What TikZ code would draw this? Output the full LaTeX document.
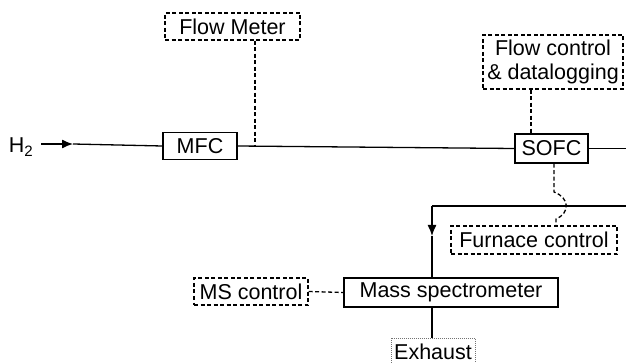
\documentclass[tikz,border=0pt]{standalone}
\usepackage{fontspec}
\setmainfont{Liberation Sans}
\usetikzlibrary{arrows.meta}
\begin{document}
\begin{tikzpicture}[x=1pt,y=-1pt,
  box/.style={draw=black, line width=1.4pt, inner sep=0pt, font=\fontsize{21.5}{25}\selectfont, text=black},
  dbox/.style={box, dash pattern=on 4pt off 2.5pt},
  conn/.style={draw=black, line width=1.3pt},
  dconn/.style={draw=black, line width=1.3pt, dash pattern=on 4pt off 2.5pt},
  tip/.style={-{Latex[length=11pt,width=9pt]}}]
\useasboundingbox (0,0) rectangle (626,363);
\clip (0,0) rectangle (626,363);
% nodes
\node[font=\fontsize{21.5}{25}\selectfont, inner sep=0pt, text=black] (h2) at (21,147) {H\textsubscript{2}};
\node[box, minimum width=74pt, minimum height=27pt] (mfc) at (200,146) {MFC};
\node[dbox, minimum width=135pt, minimum height=27pt] (fm) at (232.5,26.5) {Flow Meter};
\node[box, minimum width=73pt, minimum height=29pt] (sofc) at (551.5,148.5) {SOFC};
\node[dbox, minimum width=140pt, minimum height=54pt, align=center] (fc) at (553,62) {Flow control\\[-1pt]\& datalogging};
\node[dbox, minimum width=166pt, minimum height=28pt] (furn) at (534,240) {Furnace control};
\node[box, minimum width=214pt, minimum height=29pt] (ms) at (451,292.5) {Mass spectrometer};
\node[dbox, minimum width=114pt, minimum height=27pt] (msc) at (251,291.5) {MS control};
\node[box, draw=black!55, dash pattern=on 1pt off 1pt, line width=1pt, minimum width=84pt, minimum height=28pt] (exh) at (433,352) {Exhaust};
% coordinates
\coordinate (a0) at (41,144);
\coordinate (a1) at (73,144);
\coordinate (fmj) at (255,146.3);
\coordinate (rout) at (626,148.5);
\coordinate (rin) at (626,206);
\coordinate (corner) at (432,206);
\coordinate (arr) at (432,236);
\coordinate (hop0) at (554,192);
\coordinate (hop1) at (556,219);
% connectors
\draw[conn, tip] (a0) -- (a1);
\draw[conn] (a1) -- (mfc.west);
\draw[conn] (mfc.east) -- (sofc.west);
\draw[conn] (sofc.east) -- (rout);
\draw[dconn] (fm.south -| fmj) -- (fmj);
\draw[dconn] (fc.south -| 531,0) -- (sofc.north -| 531,0);
\draw[conn] (rin) -- (corner);
\draw[conn, tip] (corner) -- (arr);
\draw[conn] (arr) -- (arr |- ms.north);
\draw[conn] (ms.south -| corner) -- (exh.north -| corner);
\draw[dconn] (msc.east) -- (ms.west);
\draw[dconn] (sofc.south -| hop0) -- (hop0) .. controls (570,198) and (570,213) .. (hop1) -- (furn.north -| hop1);
\end{tikzpicture}
\end{document}
